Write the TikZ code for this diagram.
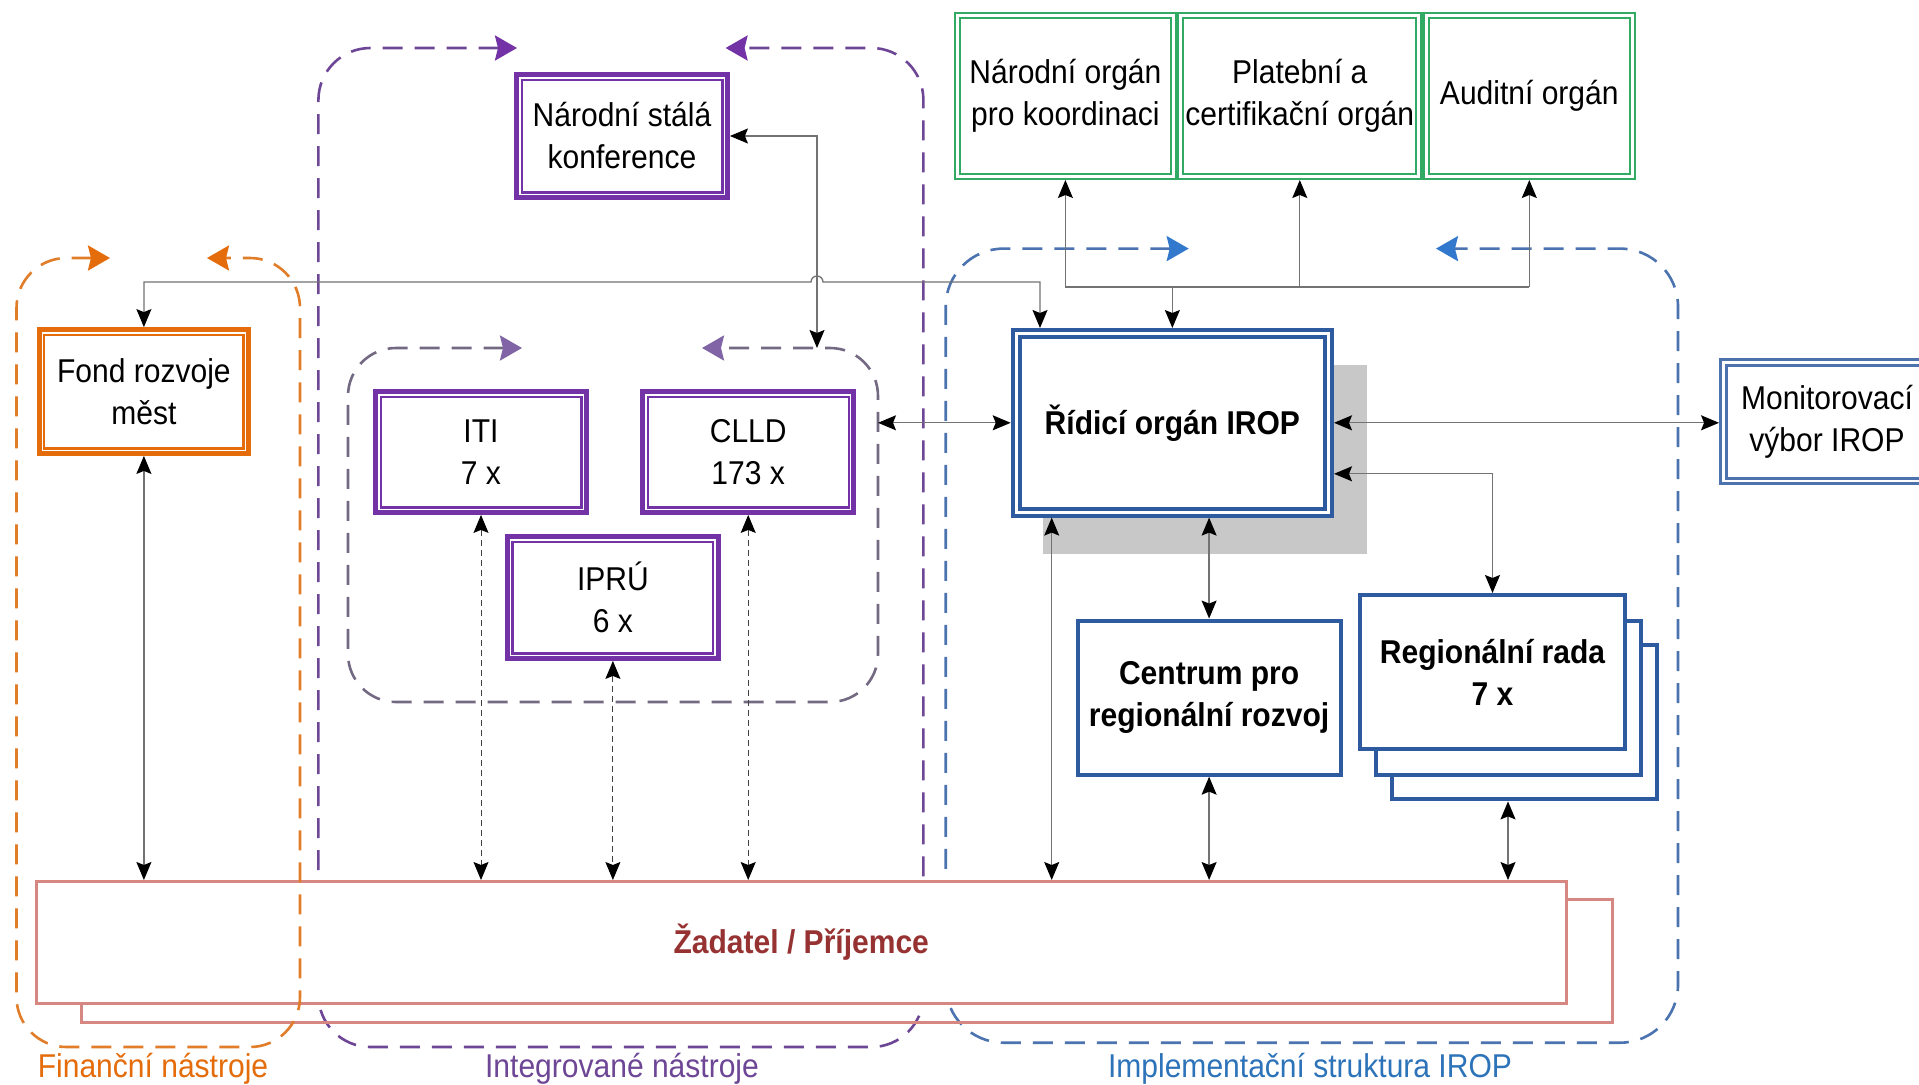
\documentclass[tikz,border=0pt]{standalone}
\usepackage{fontspec}
\setmainfont{Liberation Sans}[FakeStretch=0.91]
\usetikzlibrary{arrows.meta,calc}
\definecolor{pur}{RGB}{115,50,165}
\definecolor{purdash}{RGB}{110,70,150}
\definecolor{inndash}{RGB}{115,105,130}
\definecolor{innhead}{RGB}{128,100,165}
\definecolor{ora}{RGB}{228,108,10}
\definecolor{oradash}{RGB}{225,125,40}
\definecolor{grn}{RGB}{50,170,100}
\definecolor{blu}{RGB}{46,90,160}
\definecolor{bludash}{RGB}{75,115,175}
\definecolor{bluhead}{RGB}{50,120,205}
\definecolor{blulab}{RGB}{45,115,185}
\definecolor{zadc}{RGB}{215,135,130}
\definecolor{zadtxt}{RGB}{150,50,50}
\definecolor{lgray}{RGB}{115,115,115}
\definecolor{shad}{RGB}{200,200,200}
\begin{document}
\begin{tikzpicture}[x=1pt,y=-1pt,
  font=\fontsize{33}{42}\selectfont,
  >={Stealth[length=18pt,width=15pt,inset=3pt,color=black]},
  conn/.style={draw=lgray,line width=1.3pt},
  dotconn/.style={draw=black!75,line width=1pt,dash pattern=on 6pt off 4pt},
  grp/.style={line width=2.6pt,dash pattern=on 20pt off 12pt,rounded corners=#1},
  grpF/.style={grp=50,draw=oradash,arrows={Stealth[length=22pt,width=25pt,inset=3pt,color=ora]-Stealth[length=22pt,width=25pt,inset=3pt,color=ora]}},
  grpI/.style={grp=52,draw=purdash,arrows={Stealth[length=22pt,width=25pt,inset=3pt,color=pur]-Stealth[length=22pt,width=25pt,inset=3pt,color=pur]}},
  grpN/.style={grp=48,draw=inndash,arrows={Stealth[length=22pt,width=25pt,inset=3pt,color=innhead]-Stealth[length=22pt,width=25pt,inset=3pt,color=innhead]}},
  grpB/.style={grp=58,draw=bludash,arrows={Stealth[length=22pt,width=25pt,inset=3pt,color=bluhead]-Stealth[length=22pt,width=25pt,inset=3pt,color=bluhead]}},
  box/.style={inner sep=0pt,align=center,fill=white},
  purbox/.style={box,draw=pur,line width=8.6pt,outer sep=4.3pt,minimum width=207.2pt},
  orabox/.style={box,draw=ora,line width=8.6pt,outer sep=4.3pt},
  innerwhite/.style={draw=white,line width=1.6pt},
  grnbox/.style={box,draw=grn,line width=2.2pt,double=white,double distance=3pt,outer sep=3.7pt,minimum height=160.6pt},
  dblblue/.style={box,draw=blu,line width=4pt,double=white,double distance=2.8pt,outer sep=5.4pt},
  monbox/.style={box,draw=blu!85!white,line width=3pt,double=white,double distance=2.5pt,outer sep=4.2pt},
  sblue/.style={box,draw=blu,line width=4pt,outer sep=2pt},
  zadbox/.style={inner sep=0pt,draw=zadc,line width=3pt,outer sep=1.5pt},
  glabel/.style={anchor=base,inner sep=0pt}
]
\path[use as bounding box,fill=white] (0,0) rectangle (1919,1084);

% group frames (under the boxes)
\draw[grpI] (517,48) -- (318.4,48) -- (318.4,1047) -- (923.4,1047) -- (923.4,48) -- (725.6,48);
\draw[grpB] (1188.7,248.6) -- (945.7,248.6) -- (945.7,1042.7) -- (1678,1042.7) -- (1678,248.6) -- (1436,248.6);
\draw[grpN] (522,348) -- (348,348) -- (348,702) -- (878,702) -- (878,348) -- (702,348);

% shadow of the managing authority
\fill[shad] (1043,364.6) rectangle (1366.6,554);

% boxes
\node[purbox,minimum height=119.2pt] (konf) at (622,136) {Národní stálá\\konference};
\node[purbox,minimum height=117.2pt] (iti) at (481,452) {ITI\\7 x};
\node[purbox,minimum height=117.2pt] (clld) at (748.2,452) {CLLD\\173 x};
\node[purbox,minimum height=118.2pt] (ipru) at (612.9,597.5) {IPRÚ\\6 x};
\node[orabox,minimum width=205.5pt,minimum height=120.2pt] (fond) at (143.9,391.5) {Fond rozvoje\\měst};
\foreach \n in {konf,iti,clld,ipru,fond}
  \draw[innerwhite] ([shift={(5.6,5.6)}]\n.north west) rectangle ([shift={(-5.6,-5.6)}]\n.south east);

\node[grnbox,minimum width=215.9pt] (nk) at (1065.4,96) {Národní orgán\\pro koordinaci};
\node[grnbox,minimum width=238.2pt] (pc) at (1299.8,96) {Platební a\\certifikační orgán};
\node[grnbox,minimum width=206pt] (au) at (1529.3,96) {Auditní orgán};

\node[dblblue,minimum width=312.5pt,minimum height=178.8pt,font=\fontsize{33}{42}\selectfont\bfseries] (rid) at (1172.35,422.8) {Řídicí orgán IROP};
\node[monbox,minimum width=207.5pt,minimum height=118.5pt] (mon) at (1827,421.5) {Monitorovací\\výbor IROP};

\node[sblue,minimum width=263.2pt,minimum height=154.1pt,font=\fontsize{33}{42}\selectfont\bfseries] (cen) at (1209.1,697.6) {Centrum pro\\regionální rozvoj};
\node[sblue,minimum width=265pt,minimum height=154pt] (rr3) at (1524,722.4) {};
\node[sblue,minimum width=265pt,minimum height=154pt] (rr2) at (1508.5,698) {};
\node[sblue,minimum width=265pt,minimum height=154pt,font=\fontsize{33}{42}\selectfont\bfseries] (rr1) at (1492.5,672) {Regionální rada\\7 x};

% applicant / beneficiary
\node[zadbox,minimum width=1531.4pt,minimum height=123pt] (zadb) at (846.8,961) {};
\node[zadbox,fill=white,minimum width=1529.5pt,minimum height=122pt,font=\fontsize{33}{42}\selectfont\bfseries,text=zadtxt] (zad) at (801.25,942.5) {Žadatel / Příjemce};

% financial instruments frame (drawn over the applicant box)
\draw[grpF] (110,258) -- (16.5,258) -- (16.5,1047) -- (300,1047) -- (300,258) -- (207,258);

% group labels
\node[glabel,text=ora] (lF) at (153,1077) {Finanční nástroje};
\node[glabel,text=purdash] (lI) at (622,1077) {Integrované nástroje};
\node[glabel,text=blulab] (lB) at (1310,1077) {Implementační struktura IROP};

% helper coordinates
\coordinate (hop1) at (811,282);
\coordinate (ridA) at ([xshift=29.3pt]rid.north west);
\coordinate (inT) at (817,348);
\coordinate (inR) at (878,422.8);
\coordinate (bus) at (1173,287);
\coordinate (ridR) at ($(rid.east)+(0,51)$);
\coordinate (rb) at ([xshift=41pt]rid.south west);
\coordinate (rrb) at ([xshift=-16pt]rr3.south);

% connectors
\draw[conn,<->] (fond.north) |- (hop1) arc[start angle=180,end angle=360,radius=6] -| (ridA);
\draw[conn,<->] (konf.east) -| (inT);
\draw[conn,<->] (inR) -- (rid.west);
\draw[conn,<->] (rid.east) -- (rid.east -| mon.west);
\draw[conn,<->] (ridR) -| (rr1.north);
\draw[conn] (nk.south |- bus) -- (au.south |- bus);
\draw[conn,->] (nk.south |- bus) -- (nk.south);
\draw[conn,->] (pc.south |- bus) -- (pc.south);
\draw[conn,->] (au.south |- bus) -- (au.south);
\draw[conn,->] (rid.north |- bus) -- (rid.north);
\draw[conn,<->] (rb) -- (rb |- zad.north);
\draw[conn,<->] (cen.north |- rid.south) -- (cen.north);
\draw[conn,<->] (cen.south) -- (cen.south |- zad.north);
\draw[conn,<->] (rrb) -- (rrb |- zad.north);
\draw[conn,<->] (fond.south) -- (fond.south |- zad.north);
\draw[dotconn,<->] (iti.south) -- (iti.south |- zad.north);
\draw[dotconn,<->] (ipru.south) -- (ipru.south |- zad.north);
\draw[dotconn,<->] (clld.south) -- (clld.south |- zad.north);
\end{tikzpicture}
\end{document}
